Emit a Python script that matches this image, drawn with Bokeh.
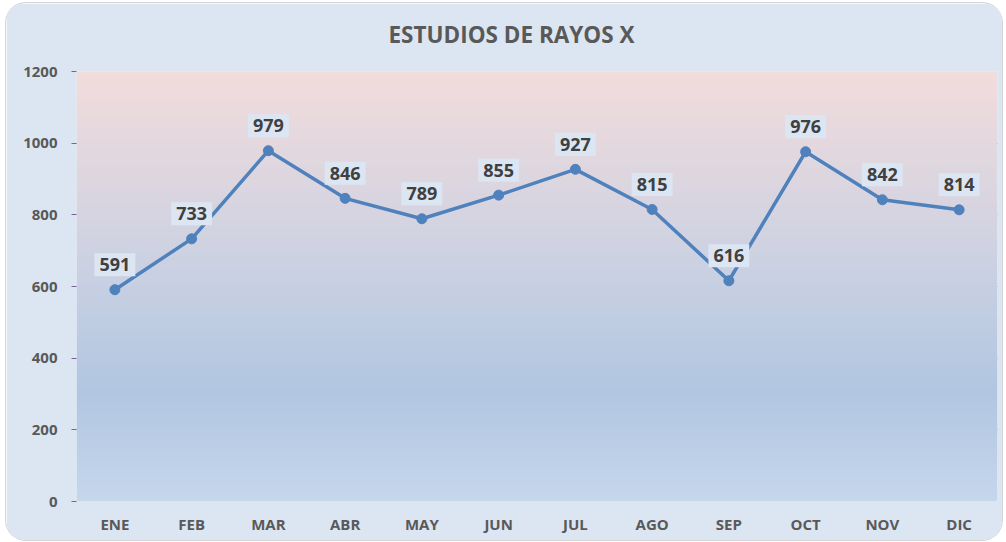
import numpy as np
from bokeh.plotting import figure
from bokeh.models import ColumnDataSource, Range1d, FixedTicker, Title
from bokeh.core.properties import value
from bokeh.embed import file_html
from bokeh.resources import INLINE

months = ["ENE", "FEB", "MAR", "ABR", "MAY", "JUN", "JUL", "AGO", "SEP", "OCT", "NOV", "DIC"]
values = [591, 733, 979, 846, 789, 855, 927, 815, 616, 976, 842, 814]
y_ticks = [0, 200, 400, 600, 800, 1000, 1200]

idx = list(range(len(months)))
src = ColumnDataSource(dict(x=idx, y=values, lbl=[str(v) for v in values]))

BG = "#dce6f2"
p = figure(width=996, height=537, output_backend="svg", toolbar_location=None,
           x_range=Range1d(-0.5, 11.5), y_range=Range1d(0, 1200),
           min_border_left=70, min_border_right=5, min_border_top=68, min_border_bottom=39,
           title="ESTUDIOS DE RAYOS X")
p.background_fill_color = BG
p.border_fill_color = BG
p.outline_line_color = None
p.styles = {"border-radius": "20px", "overflow": "hidden", "box-shadow": "0 0 0 1px #d4d4d4",
            "margin-left": "6px", "margin-top": "3px"}

# spacer between the title and the plot area
p.add_layout(Title(text=" ", text_font_size="18px", standoff=0), "above")

p.title.align = "left"
p.title.offset = 312
p.title.text_font = "Open Sans"
p.title.text_font_style = "bold"
p.title.text_font_size = "22.5px"
p.title.text_color = "#595959"
p.title.standoff = 0

# gradient background of the plot area
stops = [(0.0, (0xc6, 0xd7, 0xec)), (0.25, (0xb1, 0xc6, 0xe1)), (0.55, (0xcb, 0xd1, 0xe2)), (1.0, (0xf2, 0xdc, 0xdc))]
N = 240
img = np.zeros((N, 1), dtype=np.uint32)
view = img.view(dtype=np.uint8).reshape((N, 1, 4))
for i in range(N):
    t = i / (N - 1)
    for k in range(len(stops) - 1):
        t0, c0 = stops[k]
        t1, c1 = stops[k + 1]
        if t0 <= t <= t1:
            f = (t - t0) / (t1 - t0)
            c = [int(round(c0[j] + (c1[j] - c0[j]) * f)) for j in range(3)]
            break
    view[i, 0, 0] = c[0]
    view[i, 0, 1] = c[1]
    view[i, 0, 2] = c[2]
    view[i, 0, 3] = 255
p.image_rgba(image=[img], x=-0.5, y=0, dw=12, dh=1200)

# axes
p.xaxis.ticker = FixedTicker(ticks=idx)
p.xaxis.major_label_overrides = {i: m for i, m in enumerate(months)}
p.yaxis.ticker = FixedTicker(ticks=y_ticks)
for ax in (p.xaxis[0], p.yaxis[0]):
    ax.axis_line_color = None
    ax.major_label_text_font = "Open Sans"
    ax.major_label_text_font_style = "bold"
    ax.major_label_text_font_size = "15px"
    ax.major_label_text_color = "#595959"
    ax.minor_tick_line_color = None
p.xaxis.major_tick_line_color = None
p.xaxis.major_label_standoff = 6
p.yaxis.major_tick_line_color = "#7a6496"
p.yaxis.major_tick_out = 5
p.yaxis.major_tick_in = 0
p.yaxis.major_label_standoff = 14

p.xgrid.grid_line_color = None
p.ygrid.ticker = FixedTicker(ticks=y_ticks[1:])
p.ygrid.grid_line_color = "#6f5890"
p.ygrid.grid_line_width = 1.2

p.line("x", "y", source=src, line_color="#4f81bd", line_width=3.5)
p.scatter("x", "y", source=src, size=10, fill_color="#4f81bd", line_color="#4f81bd")

p.text(x="x", y="y", text="lbl", source=src, text_align="center", text_baseline="middle",
       y_offset=-25, text_font=value("Open Sans"), text_font_style="bold", text_font_size="18px",
       text_color="#404040", background_fill_color=BG, padding=5)

open("out.html", "w").write(file_html(p, INLINE))
